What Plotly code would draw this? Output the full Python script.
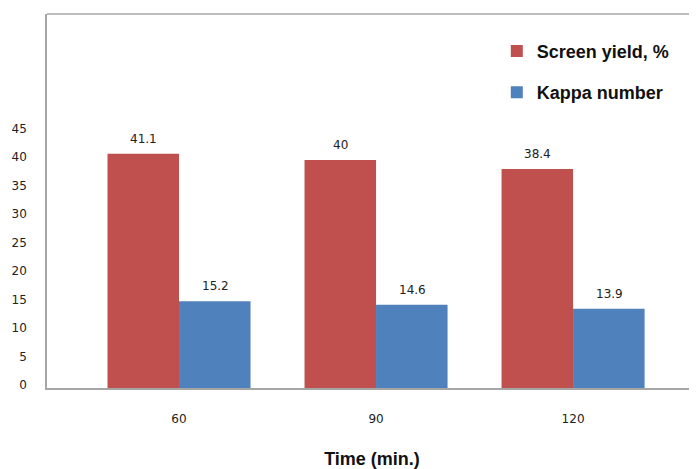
import plotly.graph_objects as go

categories = ["60", "90", "120"]
screen_yield = [41.1, 40, 38.4]
kappa_number = [15.2, 14.6, 13.9]
y_ticks = [0, 5, 10, 15, 20, 25, 30, 35, 40, 45]

label_font = dict(family="DejaVu Sans", size=12, color="#222222")

fig = go.Figure()
fig.add_trace(go.Bar(
    x=categories, y=screen_yield, name="Screen yield, %",
    marker=dict(color="#C0504D", line=dict(width=0)),
    legendgroup="a",
))
fig.add_trace(go.Bar(
    x=categories, y=kappa_number, name="Kappa number",
    marker=dict(color="#4F81BD", line=dict(width=0)),
    legendgroup="b",
))

annotations = []
for series, dx in ((screen_yield, -36), (kappa_number, 36)):
    for i, v in enumerate(series):
        annotations.append(dict(
            x=i, y=v, xref="x", yref="y", text=f"{v:g}", showarrow=False,
            xshift=dx, yshift=15, font=label_font,
        ))

fig.update_layout(
    width=689, height=461,
    margin=dict(l=39, r=0, t=6, b=81),
    paper_bgcolor="white", plot_bgcolor="white",
    barmode="group", bargap=0.274, bargroupgap=0,
    showlegend=True,
    legend=dict(
        x=0.692, y=0.95, xanchor="left", yanchor="top",
        font=dict(family="Liberation Sans", size=18, color="#111111", weight="bold"),
        traceorder="grouped", tracegroupgap=15,
        itemsizing="constant", bgcolor="rgba(0,0,0,0)",
    ),
    xaxis=dict(
        type="category", range=[-0.670, 2.629],
        showline=True, linecolor="#A6A6A6", linewidth=1.5,
        ticks="", showgrid=False, zeroline=False,
        tickfont=label_font,
        ticklabelstandoff=19,
        title=dict(text="<b>Time (min.)</b>", font=dict(family="Liberation Sans", size=18, color="#111111"), standoff=27),
    ),
    yaxis=dict(
        range=[0, 65.6], tickvals=y_ticks,
        showline=True, linecolor="#A6A6A6", linewidth=1.5,
        ticks="", showgrid=False, zeroline=False,
        tickfont=label_font,
        ticklabelstandoff=16, ticklabelshift=-3,
    ),
    annotations=annotations,
    shapes=[dict(type="line", xref="paper", yref="paper", x0=0, x1=1, y0=1, y1=1,
                 line=dict(color="#A6A6A6", width=1.5))],
)

fig.write_html("out.html")
